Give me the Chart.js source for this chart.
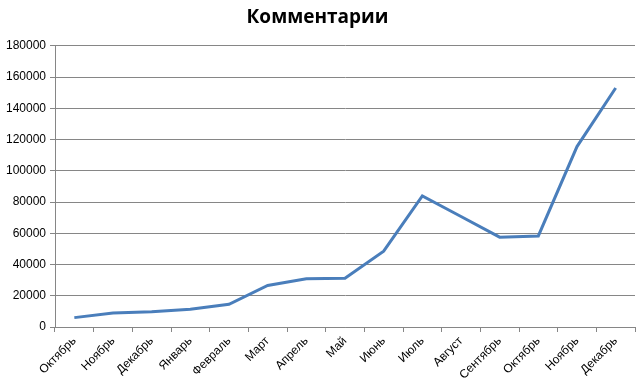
<!DOCTYPE html>
<html>
<head>
<meta charset="utf-8">
<script src="https://cdn.jsdelivr.net/npm/chart.js@4"></script>
<style>
  html, body { margin: 0; padding: 0; background: #fff; }
  #wrap { width: 643px; height: 388px; }
</style>
</head>
<body>
<div id="wrap"><canvas id="chartKomm"></canvas></div>
<script>
const months = ['Октябрь', 'Ноябрь', 'Декабрь', 'Январь', 'Февраль', 'Март', 'Апрель',
  'Май', 'Июнь', 'Июль', 'Август', 'Сентябрь', 'Октябрь', 'Ноябрь', 'Декабрь'];
const comments = [6000, 8900, 9800, 11300, 14500, 26600, 30900, 31200, 48500, 83900,
  70700, 57500, 58300, 115500, 153000];
const yTicks = [0, 20000, 40000, 60000, 80000, 100000, 120000, 140000, 160000, 180000];

const gridGray = '#868686';

// CHART KOMMENTARII
const chartKomm = document.getElementById('chartKomm');

new Chart(chartKomm, {
  type: 'line',
  data: {
    labels: months,
    datasets: [{
      label: 'Комментарии',
      data: comments,
      borderColor: '#4a7ebb',
      borderWidth: 3,
      pointRadius: 0,
      tension: 0,
      fill: false
    }]
  },
  options: {
    responsive: true,
    maintainAspectRatio: false,
    animation: false,
    layout: { padding: { left: 0, right: 8, top: 0, bottom: 0 } },
    plugins: {
      legend: { display: false },
      tooltip: { enabled: false },
      title: {
        display: true,
        text: 'Комментарии',
        color: '#000',
        font: { family: 'Open Sans', size: 19, weight: 'bold' },
        padding: { top: 6, bottom: 17 }
      }
    },
    scales: {
      x: {
        offset: true,
        grid: {
          offset: true,
          drawOnChartArea: false,
          drawTicks: true,
          tickLength: 5,
          color: gridGray
        },
        border: { display: true, color: gridGray },
        ticks: {
          color: '#000',
          font: { family: 'Liberation Sans', size: 12 },
          minRotation: 45,
          maxRotation: 45,
          autoSkip: false,
          padding: 2
        },
        afterFit: (scale) => { scale.height = 61; }
      },
      y: {
        min: 0,
        max: 180000,
        afterBuildTicks: (scale) => { scale.ticks = yTicks.map(v => ({ value: v })); },
        grid: { color: gridGray, tickLength: 5 },
        border: { display: true, color: gridGray },
        ticks: {
          color: '#000',
          font: { family: 'Liberation Sans', size: 12 },
          padding: 4,
          callback: (v) => String(v)
        },
        afterFit: (scale) => { scale.width = 55; }
      }
    }
  }
});
</script>
</body>
</html>
